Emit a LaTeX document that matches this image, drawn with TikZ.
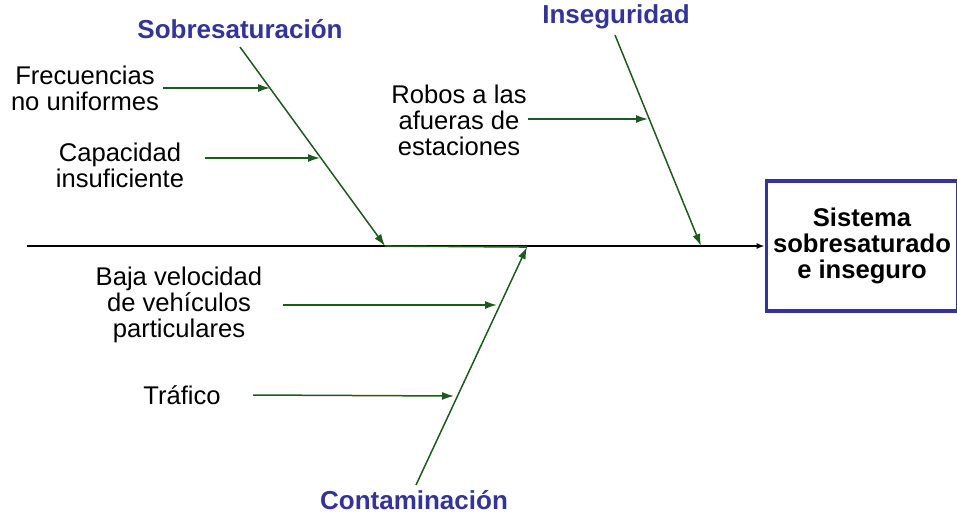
\documentclass[tikz,border=0pt]{standalone}
\usepackage{fontspec}
\setmainfont{Liberation Sans}
\usetikzlibrary{arrows.meta,positioning}
\definecolor{titlecolor}{HTML}{333399}
\definecolor{bonecolor}{HTML}{1E5A1E}

\begin{document}
\begin{tikzpicture}[
    x=0.5pt,y=-0.5pt,
    font=\fontsize{12.8}{13}\selectfont,
    cause/.style={align=center,inner sep=0pt},
    head/.style={font=\fontsize{13}{13}\selectfont\bfseries,text=titlecolor,inner sep=0pt},
    effect/.style={draw=titlecolor,line width=1.7pt,minimum width=93pt,minimum height=65pt,
      align=center,font=\fontsize{12.8}{13}\selectfont\bfseries},
    bone/.style={draw=bonecolor,line width=0.75pt,-{Latex[length=6pt,width=4pt]}},
    spine/.style={draw=black,line width=0.8pt,-{Latex[length=4pt,width=3pt]}},
  ]
    \useasboundingbox (0,0) rectangle (957,514);

    % effect box and main line
    \node[effect] (sys) at (862,246) {Sistema\\sobresaturado\\e inseguro};
    \coordinate (tail) at (27,246);
    \draw[spine] (tail) -- (sys.west);

    % main causes
    \node[head] (sobre) at (240,29) {Sobresaturación};
    \node[head] (inseg) at (616,17) {Inseguridad};
    \node[head] (conta) at (414,500) {Contaminación};
    \coordinate (sobreA) at (240,47);  \coordinate (sobreB) at (385,246);
    \coordinate (insegA) at (615,35);  \coordinate (insegB) at (701,246);
    \coordinate (contaA) at (416,485); \coordinate (contaB) at (527,247);
    \draw[bonecolor,line width=0.8pt] (sobreB) -- (contaB);
    \draw[bone] (sobreA) -- (sobreB);
    \draw[bone] (insegA) -- (insegB);
    \draw[bone] (contaA) -- (contaB);

    % sub causes
    \node[cause] (frec) at (85,88) {Frecuencias\\no uniformes};
    \node[cause] (capa) at (120,165) {Capacidad\\insuficiente};
    \node[cause] (robos) at (459,120) {Robos a las\\afueras de\\estaciones};
    \node[cause] (baja) at (179,305) {Baja velocidad\\de vehículos\\particulares};
    \node[cause] (traf) at (182,395) {Tráfico};

    \coordinate (frecA) at (163,88);  \coordinate (frecB) at (270,88);
    \coordinate (capaA) at (205,158); \coordinate (capaB) at (320,158);
    \coordinate (robosA) at (528,119); \coordinate (robosB) at (648,119);
    \coordinate (bajaA) at (283,305); \coordinate (bajaB) at (497,305);
    \coordinate (trafA) at (253,395); \coordinate (trafB) at (454,396);
    \draw[bone] (frecA) -- (frecB);
    \draw[bone] (capaA) -- (capaB);
    \draw[bone] (robosA) -- (robosB);
    \draw[bone] (bajaA) -- (bajaB);
    \draw[bone] (trafA) -- (trafB);
\end{tikzpicture}
\end{document}
